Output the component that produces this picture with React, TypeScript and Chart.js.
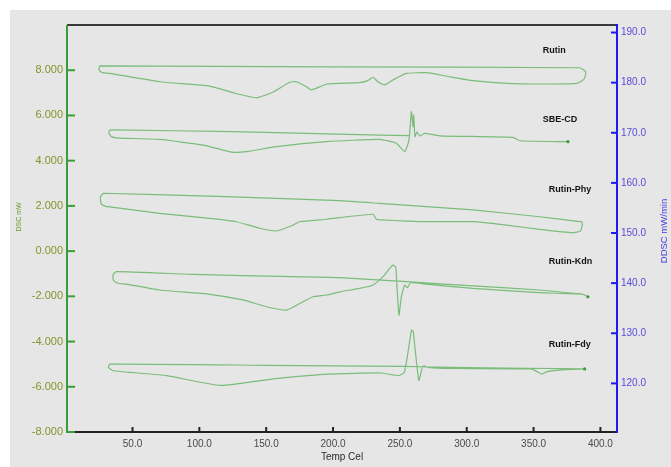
import React, { useEffect, useRef } from "react";
import { Chart, registerables } from "chart.js";

Chart.register(...registerables);

// ---- axis ticks ----
const tempTicks = [50, 100, 150, 200, 250, 300, 350, 400];
const dscTicks = [-8, -6, -4, -2, 0, 2, 4, 6, 8];
const ddscTicks = [120, 130, 140, 150, 160, 170, 180, 190];

// ---- series (Temp °C, DSC mW) ----
const rutinT = [25.5, 24.8, 26.5, 28.5, 33, 70.3, 107.7, 125, 142.9, 155.2, 167.6, 172.6, 180.1, 183.8, 195, 219.9, 225.9, 229.9, 233.6, 238.6, 244.8, 254.9, 269.8, 287.3, 304.7, 329.7, 354.6, 382.1, 386.5, 388.2, 389, 384.5, 200, 25.5];
const rutinV = [8.19, 8.05, 7.92, 7.88, 7.86, 7.49, 7.30, 7.01, 6.78, 7.04, 7.47, 7.49, 7.27, 7.13, 7.38, 7.45, 7.54, 7.69, 7.49, 7.35, 7.57, 7.86, 7.89, 7.71, 7.54, 7.42, 7.39, 7.42, 7.55, 7.64, 7.93, 8.11, 8.15, 8.19];

const sbeT = [257.3, 234.9, 125, 35.2, 32.6, 32.4, 34.5, 40.4, 70.3, 102.7, 117.7, 125.2, 135.2, 157.6, 195, 234.9, 247.4, 253.6, 256.8, 258.6, 259.8, 260.3, 261.3, 262.8, 264.8, 268.6, 279.8, 334.6, 339.6, 375.7];
const sbeV = [5.11, 5.13, 5.28, 5.36, 5.33, 5.2, 5.05, 5.0, 4.94, 4.69, 4.47, 4.37, 4.40, 4.62, 4.84, 4.94, 4.77, 4.40, 4.91, 6.17, 5.50, 6.02, 5.06, 5.28, 5.09, 5.21, 5.10, 5.03, 4.88, 4.84];

const phyT = [28.2, 26.0, 26.5, 29.9, 33, 70.3, 107.7, 127.7, 145.1, 157.6, 170.1, 175.1, 195, 229.9, 232.4, 236.2, 254.9, 267.3, 304.7, 329.7, 354.6, 379.5, 385, 386.2, 386.2, 384.5, 354.6, 304.7, 234.9, 205, 120.2, 28.2];
const phyV = [2.56, 2.40, 2.10, 1.98, 1.96, 1.67, 1.45, 1.30, 1.01, 0.89, 1.15, 1.30, 1.41, 1.63, 1.41, 1.38, 1.33, 1.30, 1.30, 1.15, 0.96, 0.81, 0.89, 1.08, 1.30, 1.30, 1.52, 1.82, 2.11, 2.23, 2.41, 2.56];

const kdnT = [387, 354.6, 304.7, 254.9, 205, 170.1, 95.2, 37.9, 35.4, 35.8, 38.9, 45.4, 70.3, 107.7, 132.6, 150.1, 165.1, 180.1, 185, 195, 205, 219.9, 229.9, 237.4, 242.4, 244.8, 246.9, 247.8, 249.3, 251.1, 253.6, 255.6, 257.9, 269.8, 304.7, 354.6, 387, 390.7];
const kdnV = [-1.91, -1.72, -1.54, -1.35, -1.17, -1.13, -1.03, -0.91, -1.05, -1.30, -1.42, -1.46, -1.72, -1.91, -2.16, -2.46, -2.61, -2.16, -2.02, -1.94, -1.80, -1.65, -1.50, -1.13, -0.76, -0.62, -0.72, -1.57, -2.83, -2.02, -1.50, -1.62, -1.40, -1.46, -1.65, -1.84, -1.91, -2.02];

const fdyT = [388.2, 300, 252, 150, 32.9, 32.0, 35.6, 75.6, 115.7, 155.6, 196, 235.9, 249.1, 253.3, 256, 258.7, 260, 261.4, 264.1, 265.3, 266.7, 268, 270.7, 289.4, 348.2, 353.5, 356.1, 360.2, 369.5, 388.2];
const fdyV = [-5.21, -5.15, -5.10, -5.05, -5.00, -5.15, -5.29, -5.51, -5.94, -5.65, -5.44, -5.39, -5.51, -5.36, -4.50, -3.49, -3.56, -4.35, -5.72, -5.51, -5.14, -5.07, -5.14, -5.19, -5.21, -5.36, -5.44, -5.33, -5.26, -5.21];

// ---- curve names and where their labels sit (Temp, DSC) ----
const labelNames = ["Rutin", "SBE-CD", "Rutin-Phy", "Rutin-Kdn", "Rutin-Fdy"];
const labelT = [356.8, 356.8, 361.3, 361.3, 361.3];
const labelV = [8.89, 5.8, 2.72, -0.46, -4.14];

const seriesT = [rutinT, sbeT, phyT, kdnT, fdyT];
const seriesV = [rutinV, sbeV, phyV, kdnV, fdyV];
const endDot = [false, true, false, true, true];

const GREEN_AXIS = "#3c9c3c";
const BLUE_AXIS = "#1c1cf0";
const LINE_COLOR = "rgba(50,160,50,0.6)";

const decoPlugin = {
  id: "deco",
  beforeDraw(chart: any) {
    const { ctx, width, height } = chart;
    ctx.save();
    ctx.fillStyle = "#ffffff";
    ctx.fillRect(0, 0, width, height);
    ctx.fillStyle = "#e6e6e6";
    ctx.fillRect(10, 10, width - 10, height - 10);
    ctx.restore();
  },
  beforeDatasetsDraw(chart: any) {
    const { ctx, chartArea } = chart;
    const { left, right, top, bottom } = chartArea;
    const sx = chart.scales.x;
    const sy = chart.scales.y;
    const sy2 = chart.scales.y2;
    ctx.save();
    ctx.lineWidth = 2;
    ctx.strokeStyle = "#3a3a3a";
    ctx.beginPath();
    ctx.moveTo(left, top);
    ctx.lineTo(right, top);
    ctx.stroke();
    ctx.strokeStyle = "#222222";
    ctx.beginPath();
    ctx.moveTo(left, bottom);
    ctx.lineTo(right, bottom);
    ctx.stroke();
    tempTicks.forEach((v) => {
      const px = sx.getPixelForValue(v);
      ctx.beginPath();
      ctx.moveTo(px, bottom);
      ctx.lineTo(px, bottom - 5);
      ctx.stroke();
    });
    ctx.strokeStyle = GREEN_AXIS;
    ctx.beginPath();
    ctx.moveTo(left, top);
    ctx.lineTo(left, bottom + 1);
    ctx.stroke();
    dscTicks.forEach((v) => {
      const py = sy.getPixelForValue(v);
      ctx.beginPath();
      ctx.moveTo(left, py);
      ctx.lineTo(left + 8, py);
      ctx.stroke();
    });
    ctx.strokeStyle = BLUE_AXIS;
    ctx.beginPath();
    ctx.moveTo(right, top - 1);
    ctx.lineTo(right, bottom + 1);
    ctx.stroke();
    ddscTicks.forEach((v) => {
      const py = sy2.getPixelForValue(v);
      ctx.beginPath();
      ctx.moveTo(right, py);
      ctx.lineTo(right - 6, py);
      ctx.stroke();
    });
    ctx.restore();
  },
  afterDatasetsDraw(chart: any) {
    const { ctx, chartArea } = chart;
    const sx = chart.scales.x;
    const sy = chart.scales.y;
    ctx.save();
    ctx.fillStyle = "#111111";
    ctx.font = "bold 9px 'Liberation Sans', Arial, sans-serif";
    ctx.textAlign = "left";
    ctx.textBaseline = "middle";
    labelNames.forEach((n, i) => {
      ctx.fillText(n, sx.getPixelForValue(labelT[i]), sy.getPixelForValue(labelV[i]));
    });
    ctx.textAlign = "center";
    ctx.fillStyle = "#6a9a2a";
    ctx.font = "7px 'Liberation Sans', Arial, sans-serif";
    ctx.save();
    ctx.translate(19, 217);
    ctx.rotate(-Math.PI / 2);
    ctx.fillText("DSC mW", 0, 0);
    ctx.restore();
    ctx.fillStyle = "#4a3ee0";
    ctx.font = "9.5px 'Liberation Sans', Arial, sans-serif";
    ctx.save();
    ctx.translate(664, 231);
    ctx.rotate(-Math.PI / 2);
    ctx.fillText("DDSC mW/min", 0, 0);
    ctx.restore();
    ctx.fillStyle = "#2a2a2a";
    ctx.font = "10px 'Liberation Sans', Arial, sans-serif";
    ctx.fillText("Temp Cel", (chartArea.left + chartArea.right) / 2, 457);
    ctx.restore();
  },
};

export default function App() {
  const ref = useRef<HTMLCanvasElement | null>(null);

  useEffect(() => {
    if (!ref.current) return;
    const datasets = seriesT.map((ts, i) => ({
      label: labelNames[i],
      data: ts.map((t, j) => ({ x: t, y: seriesV[i][j] })),
      showLine: true,
      borderColor: LINE_COLOR,
      backgroundColor: "rgba(40,150,40,0.9)",
      borderWidth: 1.2,
      tension: 0.15,
      pointRadius: (c: any) => (endDot[i] && c.dataIndex === ts.length - 1 ? 1.6 : 0),
      pointBorderWidth: 0,
      xAxisID: "x",
      yAxisID: "y",
    }));

    const chart = new Chart(ref.current, {
      type: "scatter",
      data: { datasets },
      options: {
        animation: false,
        responsive: false,
        devicePixelRatio: 1,
        events: [],
        layout: { padding: { top: 25, left: 0, right: 0, bottom: 0 } },
        plugins: { legend: { display: false }, tooltip: { enabled: false } },
        scales: {
          x: {
            type: "linear",
            position: "bottom",
            min: 1,
            max: 412.4,
            afterFit: (s: any) => {
              s.height = 35;
            },
            afterBuildTicks: (s: any) => {
              s.ticks = tempTicks.map((v) => ({ value: v }));
            },
            grid: { display: false, drawTicks: false },
            border: { display: false },
            ticks: {
              color: "#4a4a4a",
              font: { size: 10, family: "'Liberation Sans', Arial, sans-serif" },
              padding: 6,
              maxRotation: 0,
              autoSkip: false,
              callback: (v: any) => Number(v).toFixed(1),
            },
          },
          y: {
            type: "linear",
            position: "left",
            min: -8,
            max: 10,
            afterFit: (s: any) => {
              s.width = 67;
            },
            afterBuildTicks: (s: any) => {
              s.ticks = dscTicks.map((v) => ({ value: v }));
            },
            grid: { display: false, drawTicks: false },
            border: { display: false },
            ticks: {
              color: "#7f962a",
              font: { size: 11, family: "'Liberation Sans', Arial, sans-serif" },
              padding: 4,
              autoSkip: false,
              callback: (v: any) => Number(v).toFixed(3),
            },
          },
          y2: {
            type: "linear",
            position: "right",
            min: 110.3,
            max: 191.5,
            afterFit: (s: any) => {
              s.width = 54;
            },
            afterBuildTicks: (s: any) => {
              s.ticks = ddscTicks.map((v) => ({ value: v }));
            },
            grid: { display: false, drawTicks: false },
            border: { display: false },
            ticks: {
              color: "#5a4ad8",
              font: { size: 10, family: "'Liberation Sans', Arial, sans-serif" },
              padding: 4,
              autoSkip: false,
              callback: (v: any) => Number(v).toFixed(1),
            },
          },
        },
      },
      plugins: [decoPlugin],
    } as any);

    return () => chart.destroy();
  }, []);

  return (
    <div style={{ position: "absolute", left: 0, top: 0, width: 671, height: 467 }}>
      <canvas ref={ref} width={671} height={467} style={{ display: "block", width: 671, height: 467 }} />
    </div>
  );
}
